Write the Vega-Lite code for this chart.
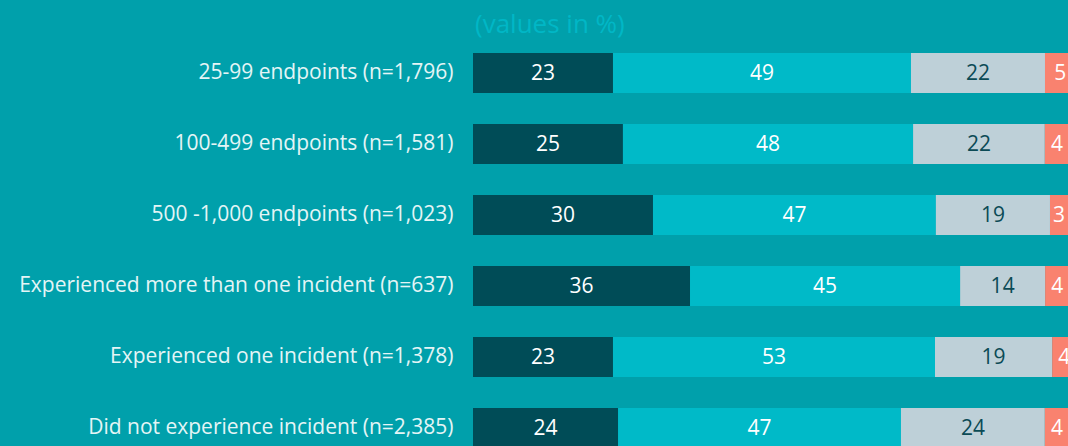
{
  "$schema": "https://vega.github.io/schema/vega-lite/v6.json",
  "width": 595,
  "height": 395,
  "autosize": {"type": "none"},
  "padding": {"left": 473, "top": 53, "right": 0, "bottom": 0},
  "background": "#00a0ab",
  "title": {
    "text": "(values in %)",
    "anchor": "start",
    "frame": "group",
    "offset": 15,
    "dx": 2,
    "fontSize": 26,
    "font": "Open Sans",
    "fontWeight": "normal",
    "color": "#00b7c6"
  },
  "config": {
    "view": {"stroke": null},
    "font": "Open Sans"
  },
  "data": {
    "values": [
      {"group": "25-99 endpoints (n=1,796)", "seg": "s1", "ord": 1, "value": 23.06, "label": "23"},
      {"group": "25-99 endpoints (n=1,796)", "seg": "s2", "ord": 2, "value": 49.09, "label": "49"},
      {"group": "25-99 endpoints (n=1,796)", "seg": "s3", "ord": 3, "value": 22.08, "label": "22"},
      {"group": "25-99 endpoints (n=1,796)", "seg": "s4", "ord": 4, "value": 5, "label": "5"},
      {"group": "100-499 endpoints (n=1,581)", "seg": "s1", "ord": 1, "value": 24.7, "label": "25"},
      {"group": "100-499 endpoints (n=1,581)", "seg": "s2", "ord": 2, "value": 47.8, "label": "48"},
      {"group": "100-499 endpoints (n=1,581)", "seg": "s3", "ord": 3, "value": 21.7, "label": "22"},
      {"group": "100-499 endpoints (n=1,581)", "seg": "s4", "ord": 4, "value": 4, "label": "4"},
      {"group": "500 -1,000 endpoints (n=1,023)", "seg": "s1", "ord": 1, "value": 29.65, "label": "30"},
      {"group": "500 -1,000 endpoints (n=1,023)", "seg": "s2", "ord": 2, "value": 46.6, "label": "47"},
      {"group": "500 -1,000 endpoints (n=1,023)", "seg": "s3", "ord": 3, "value": 18.8, "label": "19"},
      {"group": "500 -1,000 endpoints (n=1,023)", "seg": "s4", "ord": 4, "value": 3, "label": "3"},
      {"group": "Experienced more than one incident (n=637)", "seg": "s1", "ord": 1, "value": 35.75, "label": "36"},
      {"group": "Experienced more than one incident (n=637)", "seg": "s2", "ord": 2, "value": 44.5, "label": "45"},
      {"group": "Experienced more than one incident (n=637)", "seg": "s3", "ord": 3, "value": 14.0, "label": "14"},
      {"group": "Experienced more than one incident (n=637)", "seg": "s4", "ord": 4, "value": 4, "label": "4"},
      {"group": "Experienced one incident (n=1,378)", "seg": "s1", "ord": 1, "value": 23.06, "label": "23"},
      {"group": "Experienced one incident (n=1,378)", "seg": "s2", "ord": 2, "value": 53.05, "label": "53"},
      {"group": "Experienced one incident (n=1,378)", "seg": "s3", "ord": 3, "value": 19.3, "label": "19"},
      {"group": "Experienced one incident (n=1,378)", "seg": "s4", "ord": 4, "value": 4, "label": "4"},
      {"group": "Did not experience incident (n=2,385)", "seg": "s1", "ord": 1, "value": 23.9, "label": "24"},
      {"group": "Did not experience incident (n=2,385)", "seg": "s2", "ord": 2, "value": 46.6, "label": "47"},
      {"group": "Did not experience incident (n=2,385)", "seg": "s3", "ord": 3, "value": 23.7, "label": "24"},
      {"group": "Did not experience incident (n=2,385)", "seg": "s4", "ord": 4, "value": 4, "label": "4"}
    ]
  },
  "transform": [
    {"stack": "value", "groupby": ["group"], "sort": [{"field": "ord"}], "as": ["x0", "x1"]},
    {"calculate": "(datum.x0 + datum.x1) / 2", "as": "xm"}
  ],
  "encoding": {
    "y": {
      "field": "group",
      "type": "nominal",
      "sort": null,
      "scale": {"paddingInner": 0.437, "paddingOuter": 0},
      "axis": {
        "title": null,
        "domain": false,
        "ticks": false,
        "grid": false,
        "labelPadding": 20,
        "labelFontSize": 21,
        "labelColor": "#e4f5f6",
        "labelLimit": 0,
        "labelFont": "Open Sans"
      }
    }
  },
  "layer": [
    {
      "mark": {"type": "bar", "clip": true},
      "encoding": {
        "x": {"field": "x0", "type": "quantitative", "scale": {"domain": [0, 98.02], "nice": false, "zero": true}, "axis": null},
        "x2": {"field": "x1"},
        "color": {
          "field": "seg",
          "type": "nominal",
          "scale": {"domain": ["s1", "s2", "s3", "s4"], "range": ["#004c57", "#00bac8", "#bed0d8", "#f9826f"]},
          "legend": null
        }
      }
    },
    {
      "mark": {"type": "text", "fontSize": 21, "font": "Open Sans", "align": "center", "baseline": "middle", "dy": 1},
      "encoding": {
        "x": {"field": "xm", "type": "quantitative"},
        "text": {"field": "label"},
        "color": {
          "field": "seg",
          "type": "nominal",
          "scale": {"domain": ["s1", "s2", "s3", "s4"], "range": ["#ffffff", "#ffffff", "#0b4a55", "#ffffff"]},
          "legend": null
        }
      }
    }
  ],
  "resolve": {"scale": {"color": "independent"}}
}
